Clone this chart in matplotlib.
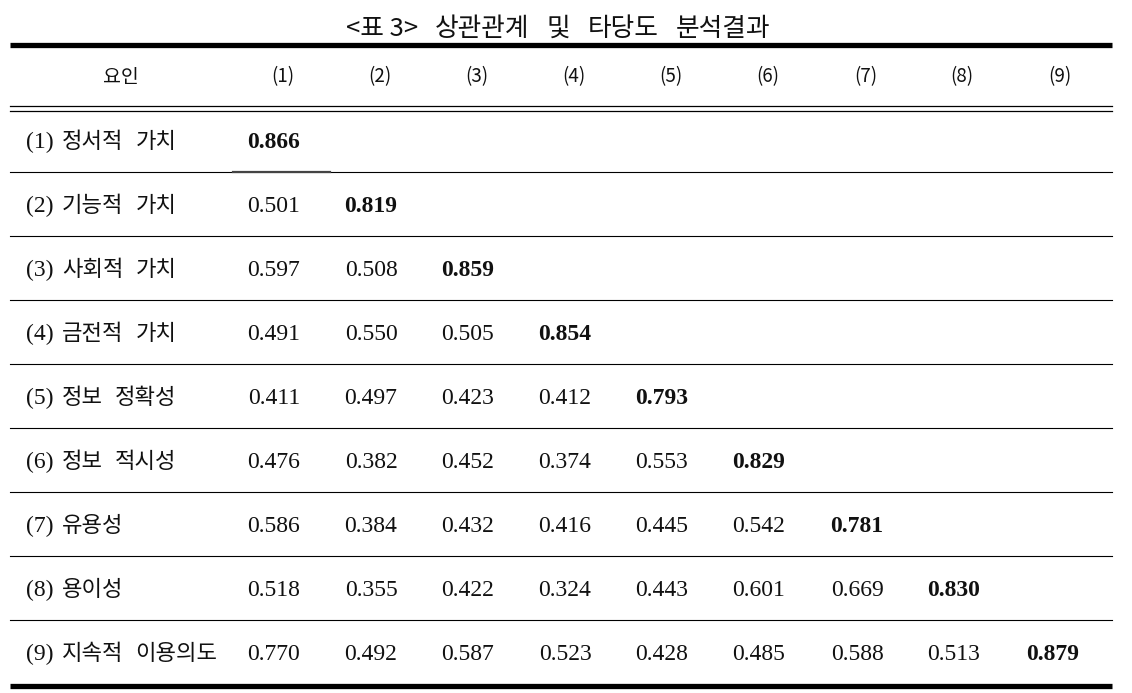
import matplotlib
matplotlib.use("Agg")
import matplotlib.pyplot as plt

title_words = ["<표 3>", "상관관계", "및", "타당도", "분석결과"]
header_first = "요인"
col_labels = ["(1)", "(2)", "(3)", "(4)", "(5)", "(6)", "(7)", "(8)", "(9)"]
row_nums = ["(1)", "(2)", "(3)", "(4)", "(5)", "(6)", "(7)", "(8)", "(9)"]
row_names = ["정서적 가치", "기능적 가치", "사회적 가치", "금전적 가치",
             "정보 정확성", "정보 적시성", "유용성", "용이성",
             "지속적 이용의도"]
values = [
    ["0.866"],
    ["0.501", "0.819"],
    ["0.597", "0.508", "0.859"],
    ["0.491", "0.550", "0.505", "0.854"],
    ["0.411", "0.497", "0.423", "0.412", "0.793"],
    ["0.476", "0.382", "0.452", "0.374", "0.553", "0.829"],
    ["0.586", "0.384", "0.432", "0.416", "0.445", "0.542", "0.781"],
    ["0.518", "0.355", "0.422", "0.324", "0.443", "0.601", "0.669", "0.830"],
    ["0.770", "0.492", "0.587", "0.523", "0.428", "0.485", "0.588", "0.513", "0.879"],
]

W, H = 1132, 693
fig = plt.figure(figsize=(W / 100, H / 100), dpi=100)
ax = fig.add_axes([0, 0, 1, 1])
ax.set_xlim(0, W)
ax.set_ylim(H, 0)
ax.axis("off")
renderer = fig.canvas.get_renderer()

sans = ["Noto Sans CJK KR", "DejaVu Sans"]
serif = ["Liberation Serif", "Noto Sans CJK KR"]
ink = "#111111"


def words_inline(x0, y, words, gap, center=False, **kw):
    texts = [ax.text(0, y, w, ha="left", va="center", **kw) for w in words]
    widths = [t.get_window_extent(renderer).width for t in texts]
    total = sum(widths) + gap * (len(words) - 1)
    x = x0 - total / 2 if center else x0
    for t, wd in zip(texts, widths):
        t.set_x(x)
        x += wd + gap


x_left, x_right = 10, 1112
hdr_x = [283, 380, 477, 574, 671, 768, 866, 962, 1060]
val_x = [274, 371, 468, 565, 662, 759, 857, 954, 1053]

words_inline(558, 29, title_words, 17, center=True, fontsize=18.5, family=sans, color=ink)
ax.plot([x_left, x_right], [45, 45], color="black", lw=3.8, solid_capstyle="butt")

hy = 77
ax.text(121, hy, header_first, ha="center", va="center", fontsize=14, family=sans, color=ink)
for x, lab in zip(hdr_x, col_labels):
    ax.text(x, hy, lab, ha="center", va="center", fontsize=13.5, family=sans, color=ink)

ax.plot([x_left, x_right], [106, 106], color="black", lw=0.9)
ax.plot([x_left, x_right], [110.5, 110.5], color="black", lw=0.9)

row_y0, row_dy = 142, 64.0
line_y0 = 172
for i, (num, name, vals) in enumerate(zip(row_nums, row_names, values)):
    y = row_y0 + i * row_dy
    ax.text(26, y, num, ha="left", va="center", fontsize=17, family=serif, color=ink)
    words_inline(62, y - 1, name.split(" "), 12, fontsize=16, family=sans, color=ink)
    for j, v in enumerate(vals):
        bold = (j == i)
        ax.text(val_x[j], y, v, ha="center", va="center", fontsize=17,
                family=serif, fontweight="bold" if bold else "normal", color=ink)
    if i < len(row_nums) - 1:
        ly = line_y0 + i * row_dy
        ax.plot([x_left, x_right], [ly, ly], color="black", lw=0.8)
        if i == 0:
            ax.plot([233, 330], [ly, ly], color="#444444", lw=1.6)

ax.plot([x_left, x_right], [686, 686], color="black", lw=3.8, solid_capstyle="butt")

fig.savefig("out.png", dpi=100)
